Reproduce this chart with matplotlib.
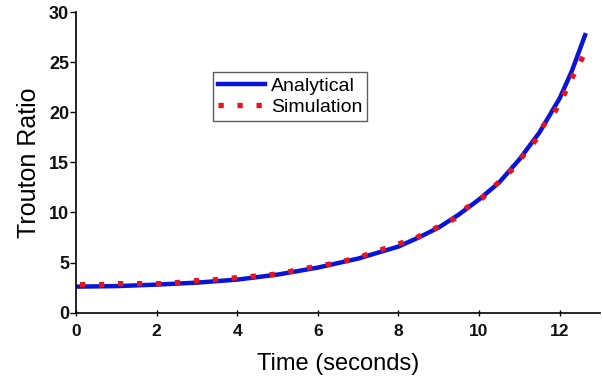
import matplotlib
matplotlib.use('Agg')
from matplotlib import pyplot as plt

#== Dados ==#
t_analitico = [0, 1, 2, 3, 4, 5, 6, 7, 8, 8.5, 9, 9.5, 10, 10.5, 11, 11.5, 12, 12.3, 12.63]
tr_analitico = [2.6, 2.65, 2.8, 3.0, 3.3, 3.8, 4.5, 5.4, 6.6, 7.5, 8.5, 9.8, 11.3, 13.0, 15.3, 18.0, 21.4, 24.1, 27.7]

t_simulacao = [0.1, 0.6, 1.0, 1.6, 2.1, 2.5, 3.0, 3.5, 4.0, 4.6, 5.1, 5.5, 6.1, 6.5, 7.0,
               8.4, 8.8, 9.4, 9.7, 10.1, 10.4, 10.8, 11.1, 11.4, 11.6, 11.9, 12.1, 12.3, 12.5, 12.7]
tr_simulacao = [2.8, 2.8, 2.9, 2.9, 2.9, 3.0, 3.2, 3.3, 3.5, 3.7, 3.9, 4.3, 4.7, 5.0, 5.5,
                7.4, 8.2, 9.4, 10.5, 11.5, 12.7, 14.2, 15.7, 17.2, 18.7, 20.2, 21.7, 23.4, 24.9, 26.7]

xticks = [0, 2, 4, 6, 8, 10, 12]
yticks = [0, 5, 10, 15, 20, 25, 30]

plt.rcParams['font.family'] = ['Liberation Sans', 'DejaVu Sans']

fig = plt.figure(figsize=(6.03, 3.79), dpi=100)
ax = fig.add_axes([0.126, 0.175, 0.869, 0.793])

ax.plot(t_analitico, tr_analitico, color='#0a14d8', linewidth=3.2, label='Analytical', zorder=2)
ax.plot(t_simulacao, tr_simulacao, color='#e8141c', linewidth=3.8, linestyle=(0, (1.0, 2.6)),
        label='Simulation', zorder=3)

ax.set_xlim(0, 13)
ax.set_ylim(0, 30)
ax.set_xticks(xticks)
ax.set_yticks(yticks)
for s in ['top', 'right']:
    ax.spines[s].set_visible(False)
ax.spines['left'].set_linewidth(1.2)
ax.spines['bottom'].set_linewidth(1.2)
ax.tick_params(axis='y', direction='out', length=4, width=1, labelsize=13, pad=1)
ax.tick_params(axis='x', direction='inout', length=5, width=1, labelsize=12.5, pad=6)
for lab in ax.get_xticklabels() + ax.get_yticklabels():
    lab.set_fontweight('bold')
    lab.set_color('#111111')

ax.set_xlabel('Time (seconds)', fontsize=17, labelpad=10)
ax.set_ylabel('Trouton Ratio', fontsize=18, labelpad=6)

leg = ax.legend(loc='upper left', bbox_to_anchor=(0.262, 0.80), fontsize=14,
                frameon=True, fancybox=False, edgecolor='#333333', handlelength=2.4,
                borderpad=0.25, labelspacing=0.2, handletextpad=0.3, borderaxespad=0)
leg.get_frame().set_linewidth(1.0)

fig.savefig('out.png', dpi=100)
